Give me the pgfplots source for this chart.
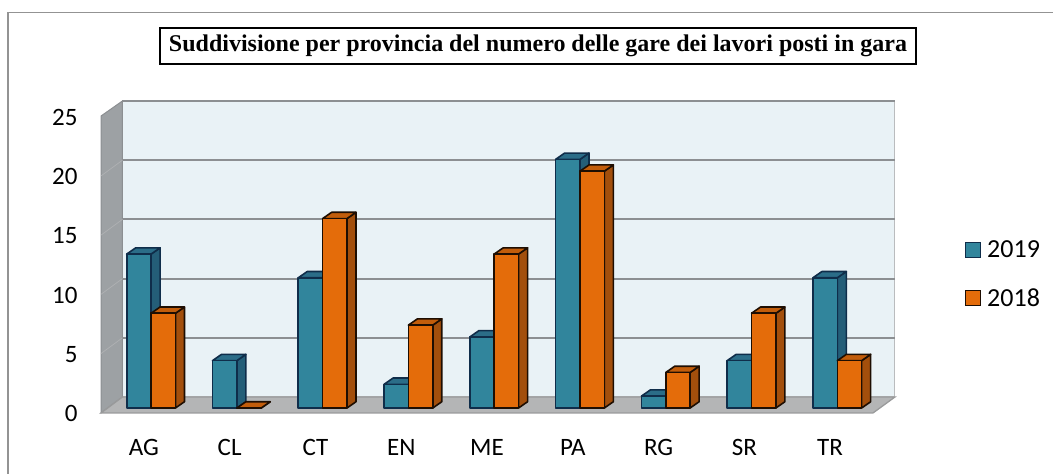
\documentclass[border=0pt]{standalone}
\usepackage{pgfplots}
\pgfplotsset{compat=1.18}
\usepackage{fontspec}
\setmainfont{Carlito}
\newfontfamily\titlefont{Liberation Serif}

\definecolor{wallback}{HTML}{E9F2F6}
\definecolor{wallside}{HTML}{9DA1A4}
\definecolor{floorc}{HTML}{B4B5B6}
\definecolor{gridc}{HTML}{8C8F92}
\definecolor{frontA}{HTML}{31859C}
\definecolor{sideA}{HTML}{245E78}
\definecolor{topA}{HTML}{2B6D88}
\definecolor{edgeA}{HTML}{0F2D4A}
\definecolor{frontB}{HTML}{E46C0A}
\definecolor{sideB}{HTML}{A34F0C}
\definecolor{topB}{HTML}{C25D0B}
\definecolor{edgeB}{HTML}{1E0E02}

% one 3d bar: left edge, value, front/side/top/edge colours
\newcommand{\barthree}[6]{%
  \pgfmathsetmacro{\xr}{#1+0.284}%
  \pgfmathsetmacro{\xb}{#1+0.284+0.105}%
  \pgfmathsetmacro{\xl}{#1+0.105}%
  \pgfmathsetmacro{\yt}{#2+0.53}%
  \addplot[forget plot,fill=#4,draw=#6,line width=1.6pt,line join=round]
    coordinates {(\xr,0) (\xb,0.53) (\xb,\yt) (\xr,#2)} --cycle;
  \addplot[forget plot,fill=#5,draw=#6,line width=1.6pt,line join=round]
    coordinates {(#1,#2) (\xl,\yt) (\xb,\yt) (\xr,#2)} --cycle;
  \addplot[forget plot,fill=#3,draw=#6,line width=1.6pt,line join=round]
    coordinates {(#1,0) (\xr,0) (\xr,#2) (#1,#2)} --cycle;
}
% one category: index, value 2019, value 2018
\newcommand{\group}[3]{%
  \pgfmathsetmacro{\xa}{#1-0.2}%
  \pgfmathsetmacro{\xo}{#1-0.2+0.284}%
  \barthree{\xa}{#2}{frontA}{sideA}{topA}{edgeA}
  \barthree{\xo}{#3}{frontB}{sideB}{topB}{edgeB}
}

\begin{document}
\begin{tikzpicture}[x=1pt,y=1pt]
  \useasboundingbox (0,0) rectangle (1053,474);
  % the frame is cut off on the right and at the bottom
  \draw[line width=1.3pt,draw=gray!85] (8,0) -- (8,461.5) -- (1053,461.5);
  \begin{axis}[
    at={(101pt,61pt)},anchor=south west,
    scale only axis,width=772pt,height=301pt,
    xmin=-0.5,xmax=8.5,ymin=-0.422,ymax=25,
    clip=false,
    axis line style={draw=none},
    tick style={draw=none},
    xtick={0,...,8},
    xticklabels={AG,CL,CT,EN,ME,PA,RG,SR,TR},
    ytick={0,5,10,15,20,25},
    xticklabel style={font=\fontsize{25}{30}\selectfont,yshift=-23pt},
    yticklabel style={font=\fontsize{25}{30}\selectfont,xshift=-20pt,yshift=-5.5pt},
    /pgf/number format/assume math mode=true,
  ]
    % walls and floor
    \addplot[forget plot,fill=wallback,draw=gridc!60,line width=1pt]
      coordinates {(-0.25,0.93) (8.756,0.93) (8.756,25.93) (-0.25,25.93)} --cycle;
    \addplot[forget plot,fill=wallside,draw=gridc,line width=1pt]
      coordinates {(-0.5,-0.42) (-0.25,0.93) (-0.25,25.93) (-0.5,24.66)} --cycle;
    \addplot[forget plot,fill=floorc,draw=floorc!85!black,line width=1.3pt]
      coordinates {(-0.5,-0.42) (8.5,-0.42) (8.756,0.93) (-0.25,0.93)} --cycle;
    % gridlines on the back wall
    \addplot[forget plot,draw=gridc,line width=2pt] coordinates {(-0.25,5.93) (8.756,5.93)};
    \addplot[forget plot,draw=gridc,line width=2pt] coordinates {(-0.25,10.93) (8.756,10.93)};
    \addplot[forget plot,draw=gridc,line width=2pt] coordinates {(-0.25,15.93) (8.756,15.93)};
    \addplot[forget plot,draw=gridc,line width=2pt] coordinates {(-0.25,20.93) (8.756,20.93)};
    \addplot[forget plot,draw=gridc,line width=2pt] coordinates {(-0.25,25.93) (8.756,25.93)};
    % gridlines on the side wall
    \addplot[forget plot,draw=gridc!70,line width=0.7pt] coordinates {(-0.5,4.6) (-0.25,5.93)};
    \addplot[forget plot,draw=gridc!70,line width=0.7pt] coordinates {(-0.5,9.6) (-0.25,10.93)};
    \addplot[forget plot,draw=gridc!70,line width=0.7pt] coordinates {(-0.5,14.6) (-0.25,15.93)};
    \addplot[forget plot,draw=gridc!70,line width=0.7pt] coordinates {(-0.5,19.6) (-0.25,20.93)};

    \group{0}{13}{8}
    \group{1}{4}{0}
    \group{2}{11}{16}
    \group{3}{2}{7}
    \group{4}{6}{13}
    \group{5}{21}{20}
    \group{6}{1}{3}
    \group{7}{4}{8}
    \group{8}{11}{4}
  \end{axis}
  % title and legend
  \node[draw=black,line width=1.5pt,fill=white,inner xsep=0pt,minimum height=36pt,minimum width=756pt,
    font=\titlefont\bfseries\fontsize{24}{28}\selectfont] at (538,428)
    {Suddivisione per provincia del numero delle gare dei lavori posti in gara};
  \fill[frontA,draw=edgeA,line width=1.5pt] (965.5,216.5) rectangle (980.5,231.5);
  \node[anchor=west,font=\fontsize{26}{30}\selectfont,inner sep=0pt] at (987,224.5) {2019};
  \fill[frontB,draw=edgeB,line width=1.5pt] (965.5,168.5) rectangle (980.5,183.5);
  \node[anchor=west,font=\fontsize{26}{30}\selectfont,inner sep=0pt] at (987,176) {2018};
\end{tikzpicture}
\end{document}
